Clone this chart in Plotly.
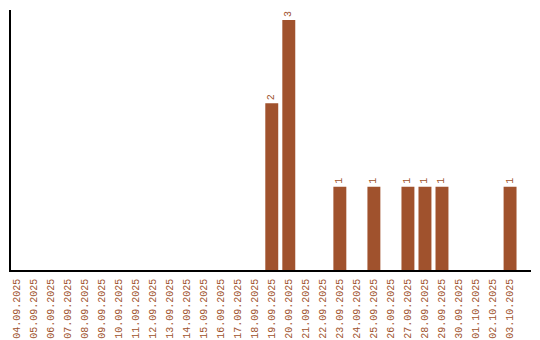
import plotly.graph_objects as go

dates = ["04.09.2025", "05.09.2025", "06.09.2025", "07.09.2025", "08.09.2025",
         "09.09.2025", "10.09.2025", "11.09.2025", "12.09.2025", "13.09.2025",
         "14.09.2025", "15.09.2025", "16.09.2025", "17.09.2025", "18.09.2025",
         "19.09.2025", "20.09.2025", "21.09.2025", "22.09.2025", "23.09.2025",
         "24.09.2025", "25.09.2025", "26.09.2025", "27.09.2025", "28.09.2025",
         "29.09.2025", "30.09.2025", "01.10.2025", "02.10.2025", "03.10.2025"]
counts = [0, 0, 0, 0, 0, 0, 0, 0, 0, 0, 0, 0, 0, 0, 0,
          2, 3, 0, 0, 1, 0, 1, 0, 1, 1, 1, 0, 0, 0, 1]

color = "#a0522d"
labels = [str(c) if c > 0 else "" for c in counts]
x_idx = list(range(len(dates)))

fig = go.Figure(go.Bar(
    x=x_idx, y=counts, width=0.76,
    marker=dict(color=color, line=dict(width=0)),
    text=labels, textposition="outside", textangle=-90,
    textfont=dict(family="Liberation Mono", size=10, color=color),
    cliponaxis=False,
))

fig.update_layout(
    width=540, height=340,
    margin=dict(l=11, r=9, t=10, b=70, autoexpand=False),
    paper_bgcolor="white", plot_bgcolor="white",
    showlegend=False,
    font=dict(family="Liberation Mono", size=10, color=color),
    xaxis=dict(
        tickmode="array", tickvals=x_idx, ticktext=dates,
        tickangle=-90, range=[-0.32, 30.23],
        showline=True, linecolor="black", linewidth=1.5,
        showgrid=False, zeroline=False, ticks="",
        ticklabelstandoff=3, automargin=False,
        tickfont=dict(family="Liberation Mono", size=10, color=color),
    ),
    yaxis=dict(
        range=[0, 3.12], showticklabels=False,
        showline=True, linecolor="black", linewidth=1.5,
        showgrid=False, zeroline=False, ticks="",
    ),
)

fig.write_html("out.html")
